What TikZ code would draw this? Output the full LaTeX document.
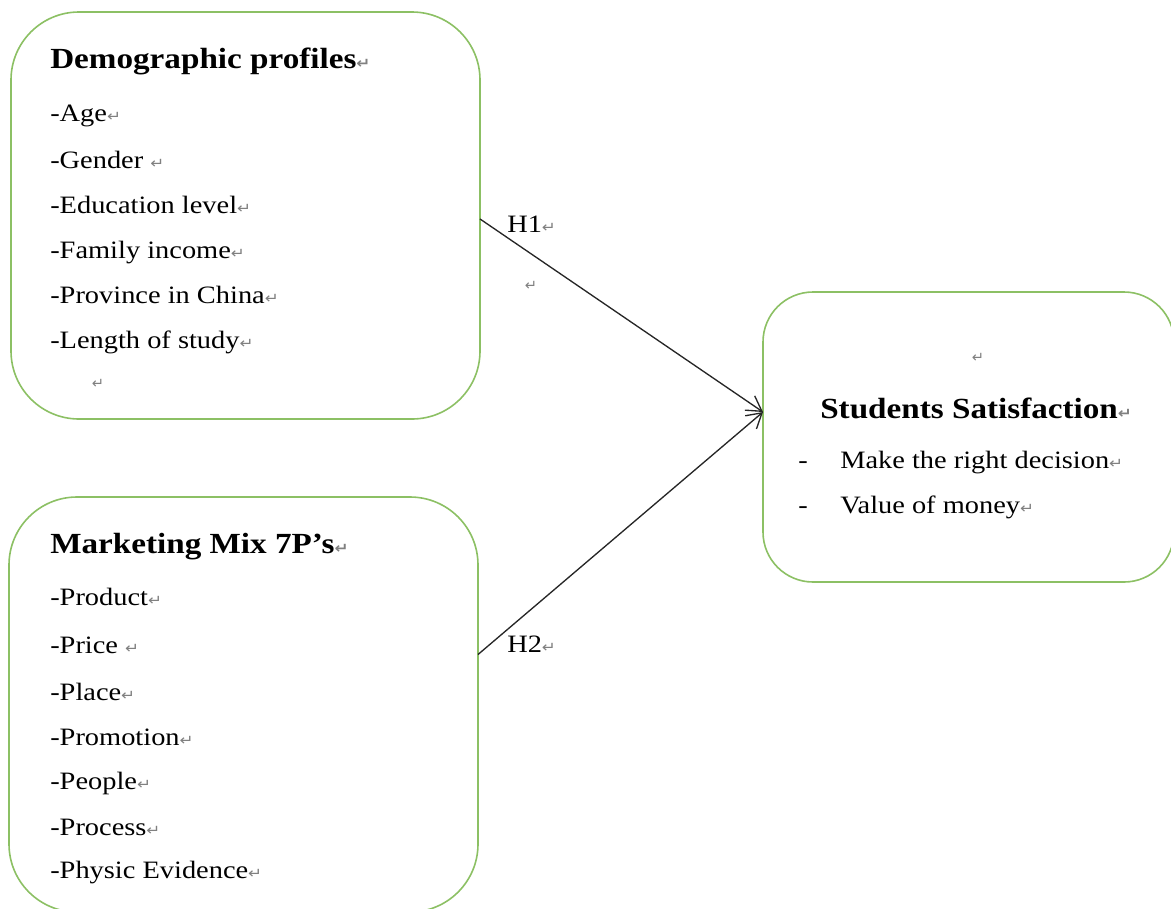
\documentclass[tikz,border=0pt]{standalone}
\usepackage{graphicx}
\usepackage{fontspec}
\setmainfont{Liberation Serif}
\newfontfamily\dejavu{DejaVu Sans}
\usetikzlibrary{arrows.meta}
\definecolor{boxgreen}{RGB}{140,192,100}
\newcommand\retmark{{\dejavu\fontsize{11}{11}\selectfont\color{gray}↵}}
\newcommand\sx[1]{\scalebox{1.136}[1]{#1}}
\tikzset{
  box/.style={draw=boxgreen, line width=1.2pt, rectangle, inner sep=0pt, outer sep=0pt},
  txt/.style={anchor=base west, inner sep=0pt, font=\fontsize{18.75}{22}\selectfont},
  ttl/.style={anchor=base west, inner sep=0pt, font=\fontsize{21.9}{26}\selectfont\bfseries},
  lone/.style={anchor=center, inner sep=0pt},
  conn/.style={draw=black!85, line width=1pt, -{Straight Barb[length=11pt,width=13pt]}}
}
\begin{document}
\begin{tikzpicture}[x=0.75pt, y=-0.75pt]
\useasboundingbox (0,0) rectangle (1171,908);
\begin{scope}
\clip (0,0) rectangle (1171,908);
% boxes
\node[box, minimum width=351.75pt, minimum height=305.25pt, rounded corners=51pt] (b1) at (245.5,215.5) {};
\node[box, minimum width=351.75pt, minimum height=311.25pt, rounded corners=51pt] (b2) at (243.5,704.5) {};
\node[box, minimum width=308.25pt, minimum height=217.5pt, rounded corners=37.5pt] (b3) at (968.5,437) {};
\end{scope}

% box 1 text
\node[ttl] (t1) at (50,68) {\sx{Demographic profiles\retmark}};
\node[txt] (a1) at (50,121) {\sx{-Age\retmark}};
\node[txt] (a2) at (50,168) {\sx{-Gender \retmark}};
\node[txt] (a3) at (50,213) {\sx{-Education level\retmark}};
\node[txt] (a4) at (50,258) {\sx{-Family income\retmark}};
\node[txt] (a5) at (50,303) {\sx{-Province in China\retmark}};
\node[txt] (a6) at (50,348) {\sx{-Length of study\retmark}};
\node[lone] (r1) at (98,384) {\retmark};

% box 2 text
\node[ttl] (t2) at (50,553) {\sx{Marketing Mix 7P’s\retmark}};
\node[txt] (m1) at (50,605) {\sx{-Product\retmark}};
\node[txt] (m2) at (50,653) {\sx{-Price \retmark}};
\node[txt] (m3) at (50,700) {\sx{-Place\retmark}};
\node[txt] (m4) at (50,745) {\sx{-Promotion\retmark}};
\node[txt] (m5) at (50,789) {\sx{-People\retmark}};
\node[txt] (m6) at (50,835) {\sx{-Process\retmark}};
\node[txt] (m7) at (50,878) {\sx{-Physic Evidence\retmark}};

% box 3 text
\node[lone] (r3) at (978,358) {\retmark};
\node[ttl] (t3) at (820,418) {\sx{Students Satisfaction\retmark}};
\node[txt] (d1) at (798,468) {\sx{-}};
\node[txt] (s1) at (840,468) {\sx{Make the right decision\retmark}};
\node[txt] (d2) at (798,513) {\sx{-}};
\node[txt] (s2) at (840,513) {\sx{Value of money\retmark}};

% connectors
\draw[conn] ([yshift=-2.6pt]b1.east) -- ([yshift=18.75pt]b3.west);
\draw[conn] ([yshift=37.5pt]b2.east) -- ([yshift=18.75pt]b3.west);
\node[txt] (h1) at (507,232) {\sx{H1\retmark}};
\node[lone] (r2) at (531,286) {\retmark};
\node[txt] (h2) at (507,652) {\sx{H2\retmark}};
\end{tikzpicture}
\end{document}
